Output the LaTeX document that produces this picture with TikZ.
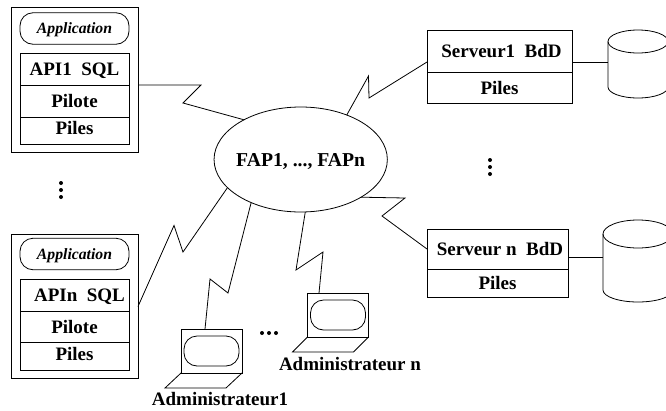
\documentclass[tikz,border=0pt]{standalone}
\usepackage{fontspec}
\setmainfont{Liberation Serif}
\usepackage{tikz}
\usetikzlibrary{shapes.geometric}

\tikzset{
  boxtext/.style={font=\fontsize{19}{22}\selectfont\bfseries, text height=13pt, text depth=0pt, inner sep=0pt, outer sep=0pt},
  cell/.style={boxtext, draw, minimum height=#1},
  clientcell/.style={cell=#1, minimum width=109pt},
  client/.style={draw, thick, minimum width=127pt, minimum height=144.5pt, outer sep=0pt},
  appli/.style={draw, rounded corners=13pt, minimum width=109pt, minimum height=31.5pt, inner sep=0pt, outer sep=0pt, text height=10.5pt, text depth=0pt, font=\fontsize{15.7}{18}\selectfont\bfseries\itshape},
  ecran/.style={draw, thick, minimum width=61pt, minimum height=44pt, outer sep=0pt},
  vitre/.style={draw, rounded corners=13pt, minimum width=55pt, minimum height=30pt, outer sep=0pt},
}

\begin{document}
\begin{tikzpicture}[x=1pt,y=-1pt,line width=0.8pt]
\clip (0,0) rectangle (666,410);

% postes clients
\node[client] (clientone) at (74.5,80) {};
\node[appli] (appone) at (74.5,28.5) {Application};
\node[clientcell=32pt] (apione) at (74.5,69) {API1~~SQL};
\node[clientcell=32pt] (piloteone) at (74.5,101) {Pilote};
\node[clientcell=27pt, text depth=6pt] (pilesone) at (74.5,130.5) {Piles\hspace{7pt}};

\node[client] (clientn) at (74.5,306.5) {};
\node[appli] (appn) at (74.5,254) {Application};
\node[clientcell=32pt] (apin) at (74.5,295) {\hspace{10pt}APIn~~SQL};
\node[clientcell=31pt] (piloten) at (74.5,326.5) {Pilote};
\node[clientcell=28pt, text depth=4pt] (pilesn) at (74.5,356) {Piles\hspace{7pt}};

% reseau
\node[draw, ellipse, boxtext, font=\fontsize{19.7}{22}\selectfont\bfseries, inner xsep=-3.2pt, minimum width=172.5pt, minimum height=105pt] (fap) at (300.7,159.5) {FAP1, ..., FAPn};

% serveurs
\node[cell=42pt, minimum width=145pt] (serveurone) at (499.5,51) {\hspace{4pt}Serveur1~~BdD};
\node[cell=31pt, minimum width=145pt] (pilesservone) at (499.5,87.5) {Piles\hspace{9pt}};
\node[cell=40pt, minimum width=141pt] (serveurn) at (497.5,249) {\hspace{5pt}Serveur n~~BdD};
\node[cell=28pt, minimum width=141pt] (pilesservn) at (497.5,283) {Piles\hspace{9pt}};

% bases de donnees
\coordinate (bddone) at (608,62);
\coordinate (bddn) at (603,257);
\draw (608,41.5) arc[start angle=180, end angle=540, x radius=30, y radius=11.5];
\draw (608,41.5) -- (608,87) arc[start angle=180, end angle=0, x radius=30, y radius=11] -- (668,41.5);
\draw (603,234) arc[start angle=180, end angle=540, x radius=35, y radius=14];
\draw (603,234) -- (603,290) arc[start angle=180, end angle=0, x radius=35, y radius=12] -- (673,234);

% portables
\node[ecran] (lapone) at (211.5,351) {};
\node[vitre] (vitreone) at (211.5,351) {};
\draw (lapone.south west) -- ++(-16,15) -- ++(61,0) -- (lapone.south east);
\node[ecran] (lapn) at (338,315) {};
\node[vitre] (vitren) at (338,315) {};
\draw (lapn.south west) -- ++(-15,15) -- ++(61,0) -- (lapn.south east);
\node[boxtext] (adminone) at (220,399) {Administrateur1};
\node[boxtext] (adminn) at (350,364) {Administrateur n};

% liaisons
\draw (clientone.east |- apione.south) -- (201,85) -- (183,103) -- (fap.145);
\draw (clientn.east) -- (174,225.5) -- (183,252) -- (fap.201.8);
\draw ([xshift=-6.5pt]lapone.north) -- (210,279) -- (228,293) -- (fap.221.2);
\draw ([xshift=-19pt]lapn.north) -- (323,252) -- (296,270) -- (fap.275);
\draw (serveurone.west |- 0,62) -- (369,98) -- (368.5,76) -- (fap.44.5);
\draw (serveurn.west) -- (382,216) -- (405,198) -- (fap.328.5);
\draw (serveurone.east |- bddone) -- (bddone);
\draw (serveurn.east |- bddn) -- (bddn);

% points de suspension
\foreach \y in {183,190,197} {\fill (61,\y) circle(2pt);}
\foreach \y in {160,167,174} {\fill (490,\y) circle(2pt);}
\foreach \x in {262,269,276} {\fill (\x,333) circle(2pt);}
\end{tikzpicture}
\end{document}
